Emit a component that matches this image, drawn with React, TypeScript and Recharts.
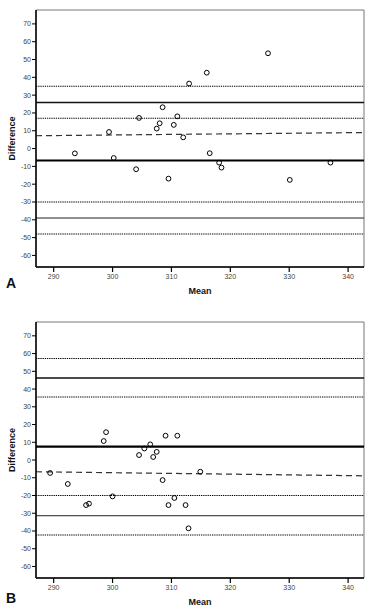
import React from 'react';
import { ScatterChart, Scatter, XAxis, YAxis, ReferenceLine, ReferenceArea } from 'recharts';

// panel A
const meanA = [293.6, 299.4, 300.2, 304, 304.5, 307.5, 308, 308.5, 309.5, 310.4, 311, 312, 313, 316, 316.5, 318.1, 318.5, 326.4, 330.1, 337];
const diffA = [-2.7, 9.3, -5.3, -11.6, 17.2, 11.2, 14.2, 23.2, -16.9, 13.3, 18.1, 6.3, 36.5, 42.6, -2.6, -7.9, -10.7, 53.5, -17.6, -7.9];
const limitsA = [35, 25.8, 17, -6.7, -30, -39, -48];
const trendA = [7.2, 9.0];

// panel B
const meanB = [289.4, 292.4, 295.5, 296, 298.5, 298.9, 300, 304.5, 305.4, 306.4, 306.9, 307.5, 308.5, 309, 309.5, 310.5, 311, 312.4, 312.9, 314.9];
const diffB = [-7.3, -13.5, -25.4, -24.6, 10.7, 15.7, -20.5, 2.8, 6.5, 8.8, 1.7, 4.6, -11.3, 13.7, -25.4, -21.4, 13.7, -25.4, -38.5, -6.6];
const limitsB = [57.2, 46.3, 35.5, 7.5, -20, -31.4, -42.3];
const trendB = [-6.6, -8.9];

const xTicks = [290, 300, 310, 320, 330, 340];
const yTicks = [-60, -50, -40, -30, -20, -10, 0, 10, 20, 30, 40, 50, 60, 70];
const xDomain = [287, 342.7];
const yDomain = [-66.5, 77.8];

const FONT = '"Liberation Sans", Arial, sans-serif';

// dotted / solid / dotted / mean / dotted / solid / dotted
const lineKinds = ['dot', 'solid', 'dot', 'mean', 'dot', 'thin', 'dot'];

const lineProps = (kind: string) => {
  if (kind === 'dot') return { stroke: '#000', strokeWidth: 1.1, strokeDasharray: '1.3 0.9' };
  if (kind === 'mean') return { stroke: '#000', strokeWidth: 2.2 };
  if (kind === 'solid') return { stroke: '#111', strokeWidth: 1.5 };
  return { stroke: '#222', strokeWidth: 1 };
};

const Circle = (props: any) => (
  <circle cx={props.cx} cy={props.cy} r={2.4} fill="none" stroke="#000" strokeWidth={1} />
);

interface PanelProps {
  means: number[];
  diffs: number[];
  limits: number[];
  trend: number[];
  top: number;
  marginTop: number;
  letter: string;
  letterTop: number;
}

const Panel: React.FC<PanelProps> = ({ means, diffs, limits, trend, top, marginTop, letter, letterTop }) => {
  const points = means.map((m, i) => ({ mean: m, diff: diffs[i] }));
  return (
    <>
      <div style={{ position: 'absolute', left: 0, top }}>
        <ScatterChart width={374} height={300} margin={{ top: marginTop, right: 10, left: 0, bottom: 0 }}>
          <ReferenceArea x1={xDomain[0]} x2={xDomain[1]} y1={yDomain[0]} y2={yDomain[1]} fill="none" stroke="#777" strokeWidth={1} ifOverflow="visible" />
          <XAxis
            dataKey="mean"
            type="number"
            domain={xDomain}
            ticks={xTicks}
            allowDataOverflow
            height={33}
            axisLine={{ stroke: '#000', strokeWidth: 1.5 }}
            tickLine={{ stroke: '#000', strokeWidth: 1.2 }}
            tickSize={5}
            tick={{ fontSize: 7, fill: '#444', fontFamily: FONT }}
            label={{ value: 'Mean', position: 'insideBottom', offset: 6, style: { fontSize: 9, fontWeight: 'bold', fill: '#111', fontFamily: FONT } }}
          />
          <YAxis
            dataKey="diff"
            type="number"
            domain={yDomain}
            ticks={yTicks}
            allowDataOverflow
            width={36}
            axisLine={{ stroke: '#000', strokeWidth: 1.5 }}
            tickLine={{ stroke: '#000', strokeWidth: 1 }}
            tickSize={4}
            tickMargin={1}
            tick={{ fontSize: 7, fill: '#444', fontFamily: FONT }}
            label={{ value: 'Difference', angle: -90, position: 'insideLeft', offset: 12, style: { fontSize: 9, fontWeight: 'bold', fill: '#111', fontFamily: FONT, textAnchor: 'middle' } }}
          />
          {limits.map((v, i) => (
            <ReferenceLine key={i} y={v} {...lineProps(lineKinds[i])} />
          ))}
          <ReferenceLine
            segment={[{ x: xDomain[0], y: trend[0] }, { x: xDomain[1], y: trend[1] }]}
            stroke="#333"
            strokeWidth={1.2}
            strokeDasharray="6 4"
          />
          <Scatter data={points} shape={Circle} isAnimationActive={false} />
        </ScatterChart>
      </div>
      <div style={{ position: 'absolute', left: 6, top: letterTop, fontFamily: FONT, fontWeight: 'bold', fontSize: 14, lineHeight: '14px', color: '#111' }}>
        {letter}
      </div>
    </>
  );
};

const App: React.FC = () => (
  <div style={{ position: 'absolute', left: 0, top: 0, width: 374, height: 611, background: '#fff', overflow: 'hidden' }}>
    <Panel means={meanA} diffs={diffA} limits={limitsA} trend={trendA} top={0} marginTop={10} letter="A" letterTop={276} />
    <Panel means={meanB} diffs={diffB} limits={limitsB} trend={trendB} top={311} marginTop={11} letter="B" letterTop={591} />
  </div>
);

export default App;
